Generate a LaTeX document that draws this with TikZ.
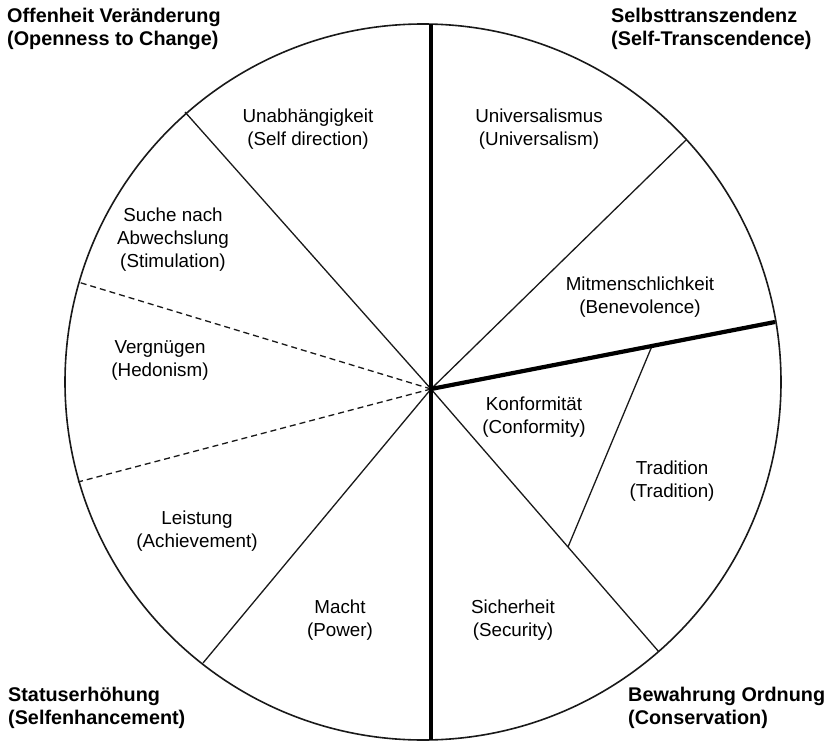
\documentclass[tikz,border=0pt]{standalone}
\usepackage{fontspec}
\setmainfont{Liberation Sans}
\begin{document}
\begin{tikzpicture}[x=1pt,y=-1pt,
  thinline/.style={line width=1.3pt,black!90},
  thickline/.style={line width=4.2pt,black},
  dashline/.style={line width=1.3pt,black!90,dash pattern=on 6pt off 4pt},
  seglabel/.style={align=center,font=\fontsize{18.8}{23}\selectfont,inner sep=0pt},
  headlabel/.style={align=left,anchor=north west,font=\fontsize{19.8}{22.5}\selectfont\bfseries,inner sep=0pt}]
\useasboundingbox (0,0) rectangle (832,741);
\fill[white] (0,0) rectangle (832,741);
\coordinate (C) at (423,382);
\coordinate (O) at (431,389);
\coordinate (T) at (431,24.2);
\coordinate (B) at (431,739.8);
\coordinate (R) at (775,322);
\coordinate (UR) at (686,140);
\coordinate (UL) at (185,112);
\coordinate (D1) at (78,282);
\coordinate (D2) at (78,482);
\coordinate (LL) at (203,663);
\coordinate (LR) at (658.6,651.5);
\coordinate (I1) at (652,346);
\coordinate (I2) at (568,547);
% spokes
\draw[thinline] (O) -- (UR);
\draw[thinline] (O) -- (UL);
\draw[thinline] (O) -- (LL);
\draw[thinline] (O) -- (LR);
\draw[thinline] (I1) -- (I2);
\draw[dashline] (O) -- (D1);
\draw[dashline] (O) -- (D2);
\draw[line width=1.6pt,black!90] (C) circle [radius=358pt];
\draw[thickline] (T) -- (B);
\draw[thickline] (O) -- (R);
% headings
\node[headlabel] (h1) at (7,8) {Offenheit Veränderung\\(Openness to Change)};
\node[headlabel] (h2) at (611,8) {Selbsttranszendenz\\(Self-Transcendence)};
\node[headlabel] (h3) at (8,687) {Statuserhöhung\\(Selfenhancement)};
\node[headlabel] (h4) at (628,687) {Bewahrung Ordnung\\(Conservation)};
% segment labels
\node[seglabel] (s1) at (308,129) {Unabhängigkeit\\(Self direction)};
\node[seglabel] (s2) at (539,129) {Universalismus\\(Universalism)};
\node[seglabel] (s3) at (173,240) {Suche nach\\Abwechslung\\(Stimulation)};
\node[seglabel] (s4) at (640,297) {Mitmenschlichkeit\\(Benevolence)};
\node[seglabel] (s5) at (160,360) {Vergnügen\\(Hedonism)};
\node[seglabel] (s6) at (534,417) {Konformität\\(Conformity)};
\node[seglabel] (s7) at (672,481) {Tradition\\(Tradition)};
\node[seglabel] (s8) at (197,531) {Leistung\\(Achievement)};
\node[seglabel] (s9) at (340,620) {Macht\\(Power)};
\node[seglabel] (s10) at (513,620) {Sicherheit\\(Security)};
\end{tikzpicture}
\end{document}
